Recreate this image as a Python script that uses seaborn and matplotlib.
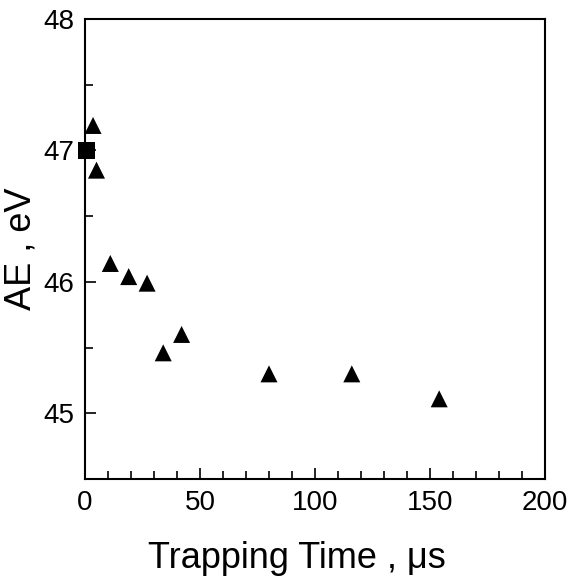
import matplotlib
matplotlib.use("Agg")
import matplotlib.pyplot as plt
import seaborn as sns
import pandas as pd
from matplotlib.ticker import MultipleLocator

# Data
tri_time = [3.5, 5.0, 11.0, 19.0, 27.0, 34.0, 42.0, 80.0, 116.0, 154.0]
tri_ae = [47.19, 46.85, 46.14, 46.04, 45.99, 45.46, 45.60, 45.30, 45.30, 45.11]
sq_time = [0.5]
sq_ae = [47.0]

df = pd.DataFrame({
    "time": tri_time + sq_time,
    "ae": tri_ae + sq_ae,
    "kind": ["tri"] * len(tri_time) + ["sq"] * len(sq_time),
})

sns.set_theme(style="ticks")
plt.rcParams['font.family'] = ['Liberation Sans', 'DejaVu Sans']
plt.rcParams['text.color'] = 'black'
plt.rcParams['axes.labelcolor'] = 'black'
plt.rcParams['xtick.color'] = 'black'
plt.rcParams['ytick.color'] = 'black'

fig = plt.figure(figsize=(5.73, 5.77), dpi=100)
ax = fig.add_axes([85/573, 1 - 479/577, (545-85)/573, (479-19)/577])

sns.scatterplot(data=df, x="time", y="ae", style="kind",
                markers={"tri": "^", "sq": "s"}, color="black",
                s=150, linewidth=0, legend=False, ax=ax, clip_on=False, zorder=3)

ax.set_xlim(0, 200)
ax.set_ylim(44.5, 48)
ax.xaxis.set_major_locator(MultipleLocator(50))
ax.xaxis.set_minor_locator(MultipleLocator(10))
ax.yaxis.set_major_locator(MultipleLocator(1))
ax.yaxis.set_minor_locator(MultipleLocator(0.5))
ax.set_yticks([45, 46, 47, 48])
ax.set_yticklabels(["45", "46", "47", "48"])

ax.tick_params(which="both", direction="in", colors="black", labelcolor="black",
               width=1.2, top=False, right=False)
ax.tick_params(which="major", length=8, labelsize=20, pad=8)
ax.tick_params(which="minor", length=6)

for sp in ax.spines.values():
    sp.set_visible(True)
    sp.set_linewidth(1.5)
    sp.set_color("black")

ax.set_xlabel("Trapping Time , μs", fontsize=26, color="black")
ax.set_ylabel("AE , eV", fontsize=26, color="black")
ax.xaxis.set_label_coords(0.46, -0.135)
ax.yaxis.set_label_coords(-0.1, 0.5)

fig.savefig("out.png", dpi=100)
